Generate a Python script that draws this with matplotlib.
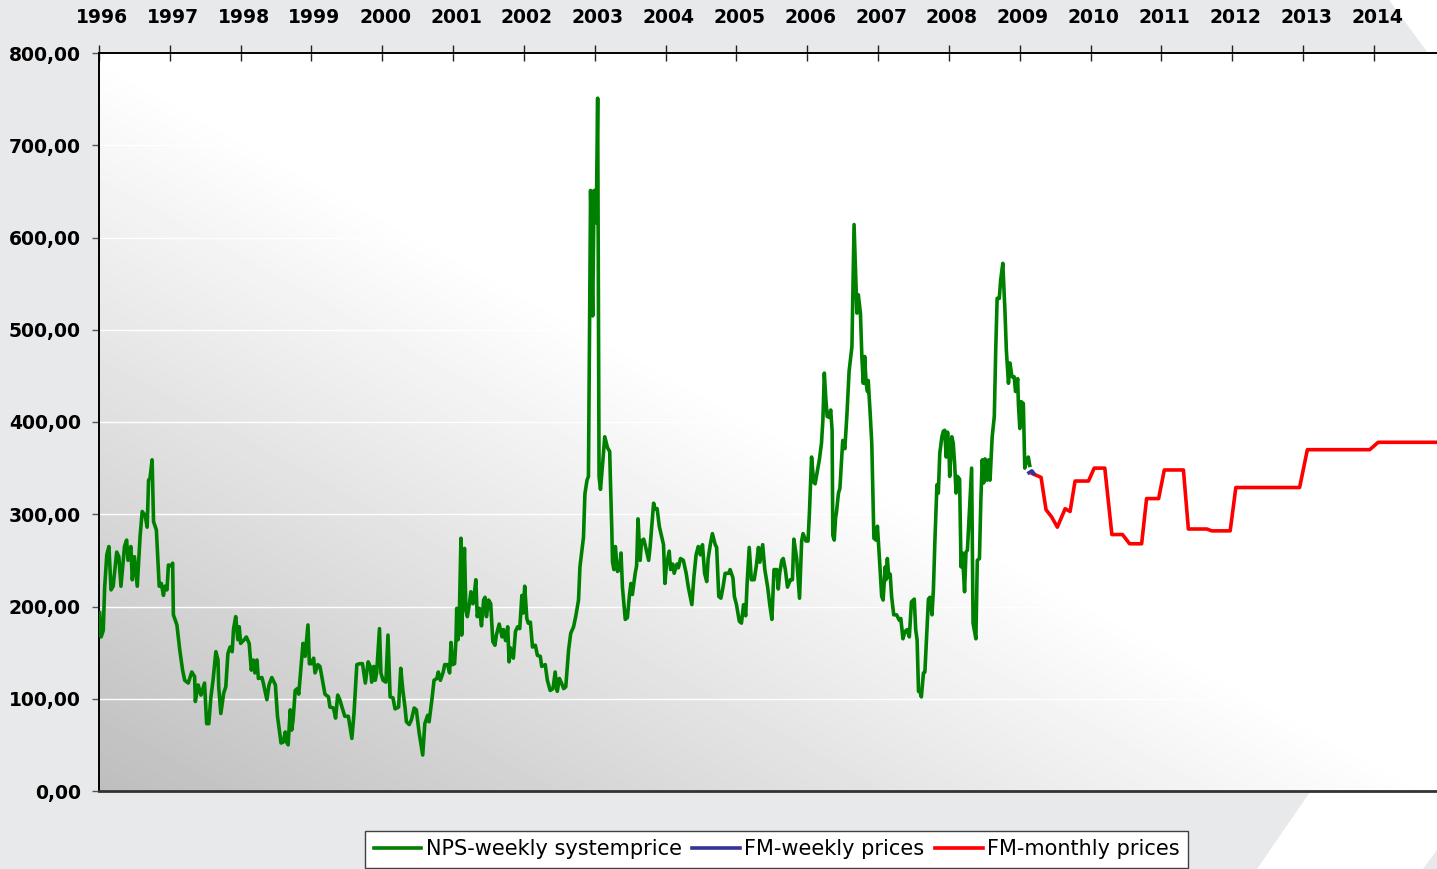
import numpy as np
import matplotlib
matplotlib.use('Agg')
import matplotlib.pyplot as plt
from matplotlib.patches import Polygon
from matplotlib.transforms import ScaledTranslation

# --- data (decimal year, price) ---
years = list(range(1996, 2015))
y_ticks = list(range(0, 801, 100))

nps_year = [
    1996.01, 1996.03, 1996.06, 1996.08, 1996.11, 1996.14, 1996.17, 1996.20, 1996.25, 1996.28,
    1996.31, 1996.36, 1996.39, 1996.41, 1996.45, 1996.47, 1996.50, 1996.54, 1996.58, 1996.61,
    1996.65, 1996.68, 1996.70, 1996.72, 1996.75, 1996.77, 1996.81, 1996.85, 1996.88, 1996.91,
    1996.93, 1996.96, 1996.98, 1997.02, 1997.04, 1997.05, 1997.10, 1997.14, 1997.18, 1997.21,
    1997.26, 1997.31, 1997.35, 1997.36, 1997.40, 1997.44, 1997.49, 1997.52, 1997.55, 1997.58,
    1997.61, 1997.65, 1997.68, 1997.69, 1997.72, 1997.76, 1997.79, 1997.82, 1997.85, 1997.88,
    1997.90, 1997.93, 1997.96, 1997.98, 1998.00, 1998.05, 1998.08, 1998.12, 1998.15, 1998.18,
    1998.20, 1998.23, 1998.25, 1998.30, 1998.32, 1998.37, 1998.40, 1998.44, 1998.49, 1998.52,
    1998.57, 1998.60, 1998.63, 1998.65, 1998.67, 1998.70, 1998.72, 1998.74, 1998.77, 1998.80,
    1998.82, 1998.86, 1998.88, 1998.91, 1998.95, 1998.97, 1999.00, 1999.03, 1999.05, 1999.09,
    1999.12, 1999.19, 1999.24, 1999.26, 1999.31, 1999.34, 1999.37, 1999.40,
    1999.43, 1999.47, 1999.52, 1999.57, 1999.60, 1999.64, 1999.68, 1999.72, 1999.76, 1999.80,
    1999.83, 1999.85, 1999.88, 1999.90, 1999.92, 1999.96, 1999.98, 2000.01, 2000.05, 2000.08,
    2000.11, 2000.15, 2000.18, 2000.23, 2000.26, 2000.29, 2000.32, 2000.34, 2000.38, 2000.41,
    2000.45, 2000.48, 2000.52, 2000.57, 2000.60, 2000.64, 2000.66, 2000.70, 2000.73, 2000.77,
    2000.79, 2000.82, 2000.86, 2000.88, 2000.92, 2000.95, 2000.97, 2000.99, 2001.02, 2001.04,
    2001.05, 2001.07, 2001.09, 2001.11, 2001.12, 2001.14, 2001.16, 2001.18, 2001.20, 2001.23,
    2001.25, 2001.28, 2001.29, 2001.32, 2001.34, 2001.37, 2001.40, 2001.43, 2001.45, 2001.47,
    2001.50, 2001.53, 2001.56, 2001.59, 2001.61, 2001.65, 2001.69, 2001.71, 2001.74, 2001.77,
    2001.79, 2001.81, 2001.85, 2001.88, 2001.91, 2001.94, 2001.97, 2001.99, 2002.01, 2002.04,
    2002.06, 2002.09, 2002.12, 2002.16, 2002.19, 2002.23, 2002.25, 2002.30, 2002.33, 2002.37,
    2002.41, 2002.44, 2002.47, 2002.50, 2002.53, 2002.56, 2002.59, 2002.63, 2002.66, 2002.70,
    2002.73, 2002.77, 2002.79,
    2002.84, 2002.86, 2002.89, 2002.91, 2002.94, 2002.97, 2002.99, 2003.02, 2003.04, 2003.06,
    2003.08, 2003.12, 2003.14, 2003.18, 2003.21, 2003.22, 2003.24, 2003.25, 2003.27, 2003.29,
    2003.32, 2003.35, 2003.37, 2003.39, 2003.43, 2003.46, 2003.49, 2003.51, 2003.53, 2003.57,
    2003.59, 2003.61, 2003.64, 2003.66, 2003.69, 2003.71, 2003.76, 2003.78, 2003.80, 2003.83,
    2003.85, 2003.88, 2003.91, 2003.94, 2003.97, 2003.99, 2004.01, 2004.05, 2004.07, 2004.10,
    2004.12, 2004.16, 2004.18, 2004.21, 2004.25, 2004.29, 2004.32, 2004.37, 2004.40, 2004.43,
    2004.46, 2004.49, 2004.52, 2004.55, 2004.58, 2004.60, 2004.63, 2004.66, 2004.70, 2004.72,
    2004.75, 2004.78, 2004.81, 2004.84, 2004.89, 2004.91, 2004.95, 2004.97, 2005.00, 2005.04,
    2005.07, 2005.10, 2005.13, 2005.15, 2005.18, 2005.21, 2005.25, 2005.28, 2005.31, 2005.33,
    2005.37, 2005.40, 2005.44, 2005.47, 2005.50, 2005.53, 2005.57, 2005.59, 2005.61, 2005.64,
    2005.66, 2005.69, 2005.72, 2005.76, 2005.79, 2005.81, 2005.85, 2005.89, 2005.92, 2005.94,
    2005.98, 2006.01, 2006.03,
    2006.06, 2006.09, 2006.11, 2006.14, 2006.17, 2006.20, 2006.22, 2006.24, 2006.26, 2006.28,
    2006.31, 2006.33, 2006.35, 2006.36, 2006.38, 2006.40, 2006.41, 2006.44, 2006.46, 2006.50,
    2006.53, 2006.56, 2006.59, 2006.63, 2006.66, 2006.70, 2006.72, 2006.75, 2006.77, 2006.79,
    2006.81, 2006.83, 2006.85, 2006.86, 2006.89, 2006.91, 2006.94, 2006.97, 2006.99, 2007.02,
    2007.05, 2007.07, 2007.10, 2007.11, 2007.13, 2007.15, 2007.17, 2007.19, 2007.22, 2007.26,
    2007.30, 2007.32, 2007.35, 2007.38, 2007.41, 2007.44, 2007.47, 2007.51, 2007.53, 2007.55,
    2007.57, 2007.59, 2007.61, 2007.64, 2007.66, 2007.69, 2007.71, 2007.73, 2007.76, 2007.78,
    2007.80, 2007.83, 2007.85, 2007.87, 2007.90, 2007.92, 2007.94, 2007.96, 2007.98, 2008.00,
    2008.01, 2008.04, 2008.06, 2008.08, 2008.10, 2008.12, 2008.15, 2008.17, 2008.19, 2008.22,
    2008.24, 2008.26, 2008.29, 2008.32, 2008.34, 2008.38, 2008.40, 2008.43, 2008.45, 2008.47,
    2008.49, 2008.51, 2008.54, 2008.56, 2008.58, 2008.61, 2008.64, 2008.66, 2008.68, 2008.71,
    2008.73, 2008.76, 2008.79, 2008.81, 2008.84, 2008.86, 2008.89, 2008.92, 2008.94, 2008.97,
    2008.98, 2009.00, 2009.02, 2009.05, 2009.07, 2009.10, 2009.12, 2009.14,
]
nps_price = [
    193, 167, 174, 221, 256, 265, 218, 222, 259, 254,
    222, 265, 272, 250, 265, 229, 254, 222, 276, 303,
    299, 286, 337, 339, 359, 292, 283, 222, 225, 212,
    222, 218, 245, 244, 247, 191, 180, 153, 131, 120,
    117, 129, 124, 97, 115, 104, 117, 73, 73, 102,
    120, 151, 142, 113, 84, 106, 113, 149, 156, 151,
    176, 189, 164, 178, 160, 164, 167, 160, 131, 142,
    128, 142, 122, 123, 117, 99, 115, 123, 115, 81,
    52, 53, 64, 53, 50, 88, 66, 77, 109, 111,
    105, 142, 160, 146, 180, 138, 138, 144, 128, 137,
    135, 105, 102, 91, 90, 79, 104, 99,
    91, 81, 81, 57, 84, 137, 138, 138, 117, 140,
    135, 118, 135, 120, 128, 176, 128, 120, 118, 169,
    102, 101, 89, 91, 133, 109, 91, 75, 72, 77,
    90, 88, 63, 39, 73, 82, 75, 99, 120, 122,
    129, 120, 129, 137, 137, 128, 161, 137, 138, 164,
    198, 164, 200, 274, 169, 221, 263, 196, 189, 203,
    216, 203, 207, 229, 189, 198, 179, 207, 210, 189,
    207, 203, 162, 158, 169, 181, 167, 175, 163, 178,
    140, 155, 144, 173, 178, 176, 212, 193, 222, 187,
    182, 183, 156, 158, 147, 146, 135, 137, 120, 109,
    111, 129, 108, 122, 117, 111, 113, 153, 171, 178,
    189, 207, 243,
    275, 322, 337, 341, 651, 515, 651, 616, 751, 341,
    327, 364, 384, 372, 368, 337, 283, 248, 240, 265,
    238, 240, 258, 221, 186, 188, 213, 225, 213, 236,
    244, 295, 250, 271, 273, 267, 250, 264, 283, 312,
    306, 306, 287, 277, 267, 225, 244, 260, 240, 246,
    236, 246, 242, 252, 250, 236, 221, 202, 233, 256,
    265, 256, 267, 236, 227, 252, 267, 279, 267, 264,
    211, 209, 221, 236, 236, 240, 231, 211, 202, 184,
    182, 202, 190, 225, 264, 229, 229, 244, 264, 248,
    267, 240, 221, 202, 186, 240, 240, 219, 236, 250,
    252, 240, 221, 229, 229, 273, 252, 209, 271, 279,
    271, 271, 302,
    362, 335, 333, 346, 359, 377, 402, 453, 427, 406,
    405, 413, 391, 277, 272, 297, 301, 323, 328, 380,
    371, 409, 455, 482, 614, 518, 538, 518, 471, 442,
    471, 442, 433, 445, 406, 377, 274, 272, 287, 250,
    211, 207, 243, 229, 252, 232, 235, 211, 191, 191,
    185, 187, 165, 173, 175, 167, 205, 208, 175, 164,
    108, 108, 102, 128, 129, 175, 208, 210, 191, 218,
    268, 332, 323, 366, 384, 390, 391, 362, 389, 370,
    341, 384, 377, 355, 323, 341, 338, 243, 258, 216,
    259, 261, 305, 350, 182, 165, 250, 252, 315, 359,
    334, 360, 337, 359, 337, 384, 406, 478, 534, 534,
    554, 572, 521, 478, 442, 464, 449, 449, 433, 447,
    420, 393, 422, 420, 350, 359, 362, 353,
]

fmw_year = [2009.13, 2009.17, 2009.20]
fmw_price = [345, 347, 344]

fmm_year = [2009.18, 2009.30, 2009.37, 2009.45, 2009.53, 2009.64, 2009.71, 2009.78, 2009.97,
            2010.05, 2010.20, 2010.30, 2010.45, 2010.55, 2010.72, 2010.79, 2010.96, 2011.04,
            2011.31, 2011.38, 2011.64, 2011.71, 2011.97, 2012.05, 2012.95, 2013.06, 2013.94,
            2014.06, 2014.89]
fmm_price = [344, 340, 305, 297, 286, 306, 303, 336, 336,
             350, 350, 278, 278, 268, 268, 317, 317, 348,
             348, 284, 284, 282, 282, 329, 329, 370, 370,
             378, 378]

x_min, x_max = 1996, 2014.89

W, H = 1437, 869
fig = plt.figure(figsize=(W / 100, H / 100), dpi=100, facecolor='#e8e9eb')

# white decorative swooshes behind the chart
for pts in ([(1389, 0), (1437, 0), (1437, 53), (1428, 53)],
            [(1310, 792), (1437, 792), (1437, 850), (1423, 869), (1257, 869)]):
    fig.add_artist(Polygon([(x / W, 1 - y / H) for x, y in pts], closed=True,
                           transform=fig.transFigure, facecolor='white',
                           edgecolor='none', zorder=-1))

ax = fig.add_axes([99 / W, 78 / H, 1338 / W, 738 / H])

# gradient plot area: grey at bottom-left, white towards top-right
gx, gy = np.meshgrid(np.linspace(0, 1, 400), np.linspace(0, 1, 200))
shade = 0.745 + 0.255 * np.clip(1.0 * gx + gy, 0, 1)
ax.imshow(shade, cmap='gray', vmin=0, vmax=1, origin='lower', aspect='auto',
          extent=[x_min, x_max, 0, 800], zorder=0, interpolation='bilinear')

ax.plot(nps_year, nps_price, color='#008000', lw=2.6, label='NPS-weekly systemprice', zorder=3)
ax.plot(fmw_year, fmw_price, color='#333399', lw=2.6, label='FM-weekly prices', zorder=4)
ax.plot(fmm_year, fmm_price, color='#ff0000', lw=2.6, label='FM-monthly prices', zorder=3)

ax.set_xlim(x_min, x_max)
ax.set_ylim(0, 800)

ax.set_yticks(y_ticks)
ax.set_yticklabels(['{:.2f}'.format(v).replace('.', ',') for v in y_ticks])
ax.set_xticks(years)
ax.set_xticklabels([str(y) for y in years])

ax.yaxis.grid(True, color='white', lw=1)
ax.set_axisbelow(True)

ax.tick_params(axis='x', top=True, bottom=False, labeltop=True, labelbottom=False,
               direction='inout', length=11, width=1, color='#222222', pad=13)
ax.tick_params(axis='y', direction='out', length=5, width=1, color='#555555', pad=8)
shift = ScaledTranslation(3 / 100, 0, fig.dpi_scale_trans)
for lbl in ax.get_xticklabels():
    lbl.set_transform(lbl.get_transform() + shift)
for lbl in ax.get_xticklabels() + ax.get_yticklabels():
    lbl.set_fontweight('bold')
    lbl.set_fontsize(13.5)

for side in ('left', 'top'):
    ax.spines[side].set_color('black')
    ax.spines[side].set_linewidth(1.4)
ax.spines['bottom'].set_color('#333333')
ax.spines['bottom'].set_linewidth(2)
ax.spines['right'].set_visible(False)

leg = fig.legend(loc='upper center', bbox_to_anchor=(776.5 / W, 38 / H), ncol=3,
                 fontsize=15, handlelength=2.3, handletextpad=0.2, columnspacing=0.5,
                 borderaxespad=0, fancybox=False, framealpha=1, edgecolor='#404040')
leg.get_frame().set_linewidth(1)

fig.savefig('out.png', dpi=100, facecolor=fig.get_facecolor())
